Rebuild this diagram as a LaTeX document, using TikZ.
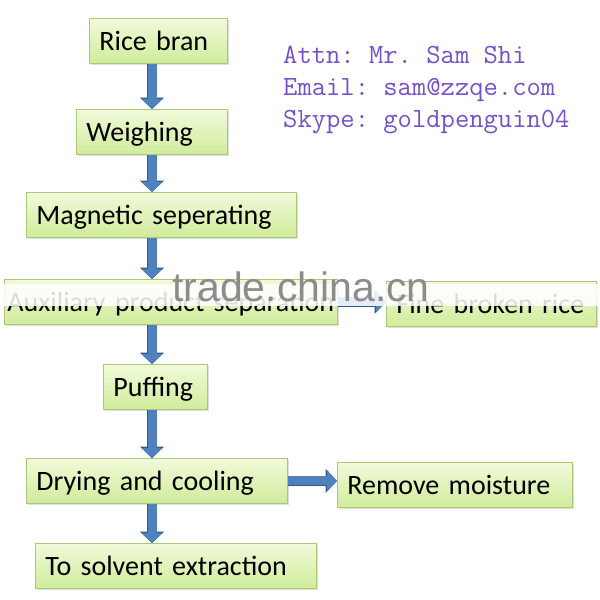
\documentclass[tikz,border=0pt]{standalone}
\usepackage{fontspec}
\setmainfont{Carlito}
\newfontfamily\markfont{Liberation Sans}
\usepackage{tikz}
\usetikzlibrary{calc}
\usetikzlibrary{arrows.meta,shadows}
\definecolor{boxtop}{RGB}{241,250,218}
\definecolor{boxbottom}{RGB}{208,236,155}
\definecolor{boxline}{RGB}{172,200,118}
\definecolor{arrowblue}{RGB}{79,129,189}
\definecolor{arrowline}{RGB}{52,88,136}
\definecolor{contact}{RGB}{118,80,200}
\definecolor{markgray}{RGB}{140,140,140}
\frenchspacing

\begin{document}
\begin{tikzpicture}[x=1pt,y=-1pt,
        stage/.style={draw=boxline,line width=0.8pt,top color=boxtop,bottom color=boxbottom,
            anchor=north west,inner xsep=10pt,inner ysep=0pt,align=left,
            font=\fontsize{28}{30}\selectfont,
            execute at begin node={\rule[-13pt]{0pt}{45pt}},
            drop shadow={opacity=0.25,shadow xshift=1.2pt,shadow yshift=-1.5pt}},
        flow/.style={line width=9pt,draw=arrowblue,-{Triangle[width=21pt,length=10pt]},
            preaction={draw=arrowline,line width=10.5pt,-{Triangle[width=23.5pt,length=11.5pt]}}},
        contactline/.style={anchor=base west,inner sep=0pt,text=contact,
            font=\ttfamily\fontsize{27.8}{30}\selectfont}]
        \fill[white] (0,0) rectangle (600,600);
        \useasboundingbox (0,0) rectangle (600,600);
        \coordinate (Column) at (152,0);
        % process steps
        \node [stage,text width=118pt] (Rice) at (89,18) {Rice bran};
        \node [stage,text width=131pt] (Weighing) at (76,109) {Weighing};
        \node [stage,text width=250pt] (Magnetic) at (26,192) {Magnetic seperating};
        \node [stage,inner xsep=3pt,text width=327pt] (Auxiliary) at (4,279) {\mbox{Auxiliary product separation}};
        \node [stage,text width=190pt] (Fine) at (386,281) {Fine broken rice};
        \node [stage,text width=84pt] (Puffing) at (103,364) {Puffing};
        \node [stage,text width=241pt] (Drying) at (26,458) {Drying and cooling};
        \node [stage,text width=215pt] (Moisture) at (337,462) {Remove moisture};
        \node [stage,text width=261pt] (Extraction) at (35,543) {To solvent extraction};
        % arrows
        \draw [flow] (Rice.south -| Column) -- (Weighing.north -| Column);
        \draw [flow] (Weighing.south -| Column) -- (Magnetic.north -| Column);
        \draw [flow] (Magnetic.south -| Column) -- (Auxiliary.north -| Column);
        \draw [flow] (Auxiliary.east) -- (Auxiliary.east -| Fine.west);
        \draw [flow] (Auxiliary.south -| Column) -- (Puffing.north -| Column);
        \draw [flow] (Puffing.south -| Column) -- (Drying.north -| Column);
        \draw [flow] (Drying.east) -- (Drying.east -| Moisture.west);
        \draw [flow] (Drying.south -| Column) -- (Extraction.north -| Column);
        % contact
        \node [contactline] (Attn) at (283,63) {Attn: Mr. Sam Shi};
        \node [contactline] (Email) at ($(Attn.base west)+(0,32)$) {Email: sam@zzqe.com};
        \node [contactline] (Skype) at ($(Email.base west)+(0,32)$) {Skype: goldpenguin04};
        % watermark band
        \fill [white,opacity=0.86] (0,284) rectangle (600,306);
        \node [anchor=base west,inner sep=0pt,text=markgray,font=\markfont\fontsize{41}{44}\selectfont] (Watermark) at (172,301) {trade.china.cn};
    \end{tikzpicture}
\end{document}
